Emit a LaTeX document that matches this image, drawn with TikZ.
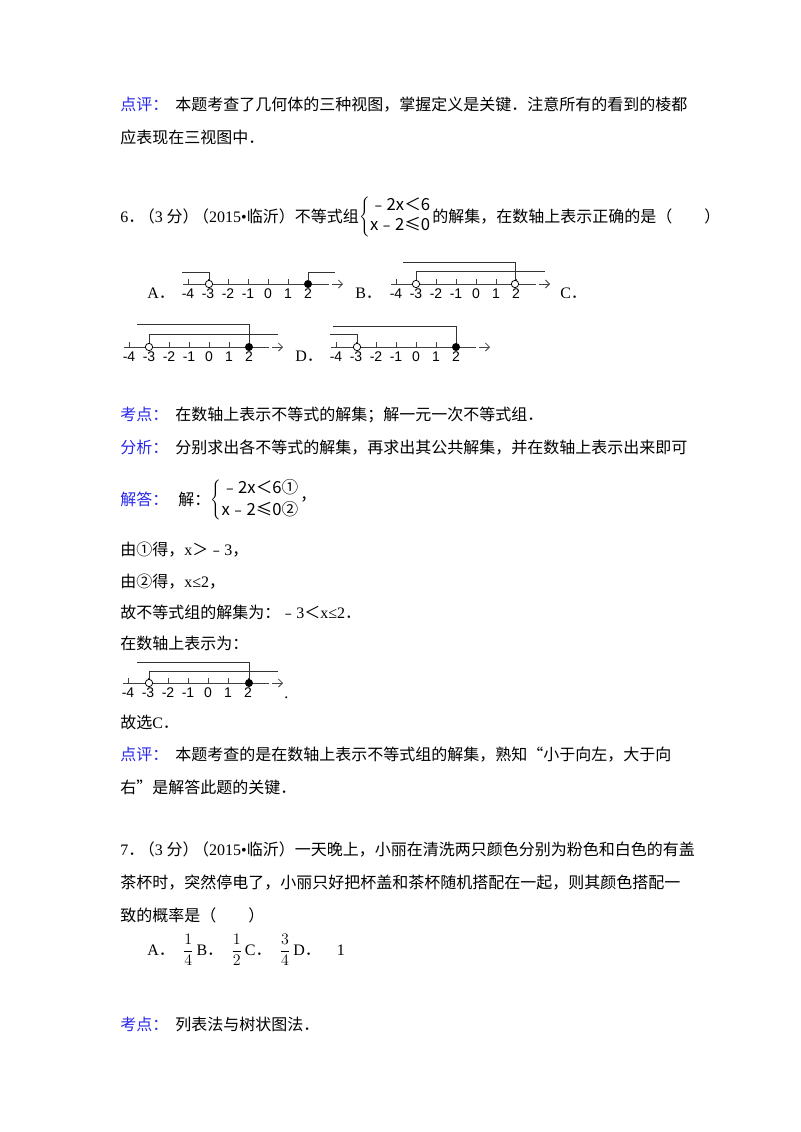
\documentclass[tikz,border=0pt]{standalone}
\usepackage{fontspec}
\setmainfont{Liberation Serif}
\newfontfamily\cjk{Noto Sans CJK SC}
\newfontfamily\arl{Liberation Sans}
\usetikzlibrary{arrows.meta}
\definecolor{kblue}{RGB}{40,40,235}
\newcommand\R[1]{{\rmfamily #1}}
\newcommand\sm[1]{\mbox{\cjk\fontsize{12.5}{14}\selectfont #1}}
\tikzset{
 tx/.style={anchor=base west,inner sep=0pt,font=\cjk\fontsize{12}{14}\selectfont},
 bl/.style={tx,text=kblue},
 lab/.style={font=\arl\fontsize{10.5}{12}\selectfont,inner sep=0pt,anchor=base},
 ax/.style={line width=0.6pt,draw=black!75},
 br/.style={line width=0.6pt,draw=black!80},
 oc/.style={circle,draw=black,fill=white,line width=0.6pt,inner sep=0pt,minimum size=5.5pt},
 fc/.style={circle,draw=black,fill=black,inner sep=0pt,minimum size=5.5pt},
}
\newcommand\numaxis[3]{%
 \draw[ax] (#1-5,#2) -- (#3-14,#2);
 \draw[ax,-{Straight Barb[length=3pt,width=6pt]}] (#3-11,#2) -- (#3,#2);
 \foreach \i/\l in {0/-4,1/-3,2/-2,3/-1,4/0,5/1,6/2}{
   \draw[ax] (#1+\i*20,#2) -- (#1+\i*20,#2-5);
   \node[lab] at (#1+\i*20,#2+14) {\l};}}
\begin{document}
\begin{tikzpicture}[x=0.75pt,y=-0.75pt]
\useasboundingbox[fill=white] (0,0) rectangle (800,1132);
\node[bl] at (120,110) {点评：};
\node[tx] at (175,110) {本题考查了几何体的三种视图，掌握定义是关键．注意所有的看到的棱都};
\node[tx] at (120,143) {应表现在三视图中．};
% question 6
\node[tx] (q6) at (120,222) {\R{6}．\kern-4pt（\R{3} 分）\kern-4pt（\R{2015•}临沂）不等式组};
\node[anchor=west,inner sep=0pt] (sys) at (q6.base east) [yshift=4pt] {$\left\{\begin{array}{@{}l@{}}\sm{﹣2x＜6}\\[2pt]\sm{x﹣2≤0}\end{array}\right.$};
\node[tx,anchor=west] at (sys.east) {的解集，在数轴上表示正确的是（　　）};
% A
\node[tx] at (147,298) {\R{A}．};
\numaxis{188}{284}{343}
\draw[br] (209,284) -- (209,272) -- (182,272);
\draw[br] (308,284) -- (308,272) -- (335,272);
\node[oc] at (209,284) {}; \node[fc] at (308,284) {};
% B
\node[tx] at (355,298) {\R{B}．};
\numaxis{396}{284}{550}
\draw[br] (416,284) -- (416,271) -- (545,271);
\draw[br] (515,284) -- (515,262) -- (403,262);
\node[oc] at (416,284) {}; \node[oc] at (515,284) {};
\node[tx] at (560,298) {\R{C}．};
% C
\numaxis{129}{347}{283}
\draw[br] (149,347) -- (149,334) -- (278,334);
\draw[br] (249,347) -- (249,324) -- (137,324);
\node[oc] at (149,347) {}; \node[fc] at (249,347) {};
\node[tx] at (295,361) {\R{D}．};
% D
\numaxis{336}{347}{490}
\draw[br] (357,347) -- (357,334) -- (330,334);
\draw[br] (456,347) -- (456,326) -- (333,326);
\node[oc] at (357,347) {}; \node[fc] at (456,347) {};
% analysis
\node[bl] at (120,420) {考点：};
\node[tx] at (175,420) {在数轴上表示不等式的解集；解一元一次不等式组．};
\node[bl] at (120,453) {分析：};
\node[tx] at (175,453) {分别求出各不等式的解集，再求出其公共解集，并在数轴上表示出来即可};
\node[bl] at (120,505) {解答：};
\node[tx] (jie) at (178,505) {解：};
\node[anchor=west,inner sep=0pt] (sys2) at (jie.base east) [yshift=4pt] {$\left\{\begin{array}{@{}l@{}}\sm{﹣2x＜6①}\\[2pt]\sm{x﹣2≤0②}\end{array}\right.$};
\node[tx,anchor=west] at (sys2.east) {，};
\node[tx] at (120,555) {由①得，\R{x}＞﹣\R{3}，};
\node[tx] at (120,587) {由②得，\R{x≤2}，};
\node[tx] at (120,618) {故不等式组的解集为：﹣\R{3}＜\R{x≤2}．};
\node[tx] at (120,649) {在数轴上表示为：};
\numaxis{128}{683}{283}
\draw[br] (149,683) -- (149,671) -- (278,671);
\draw[br] (249,683) -- (249,662) -- (137,662);
\node[oc] at (149,683) {}; \node[fc] at (249,683) {};
\node[tx] at (284,698) {\R{.}};
\node[tx] at (120,728) {故选\R{C}．};
\node[bl] at (120,760) {点评：};
\node[tx] at (175,760) {本题考查的是在数轴上表示不等式组的解集，熟知“小于向左，大于向};
\node[tx] at (120,793) {右”是解答此题的关键．};
% question 7
\node[tx] at (120,855) {\R{7}．\kern-4pt（\R{3} 分）\kern-4pt（\R{2015•}临沂）一天晚上，小丽在清洗两只颜色分别为粉色和白色的有盖};
\node[tx] at (120,888) {茶杯时，突然停电了，小丽只好把杯盖和茶杯随机搭配在一起，则其颜色搭配一};
\node[tx] at (120,921) {致的概率是（　　）};
\node[tx] at (147,955) {\R{A}．\kern6pt$\displaystyle\frac{1}{4}$\,\R{B}．\kern6pt$\displaystyle\frac{1}{2}$\,\R{C}．\kern6pt$\displaystyle\frac{3}{4}$\,\R{D}．\kern12pt\R{1}};
\node[bl] at (120,1030) {考点：};
\node[tx] at (175,1030) {列表法与树状图法．};
\end{tikzpicture}
\end{document}
